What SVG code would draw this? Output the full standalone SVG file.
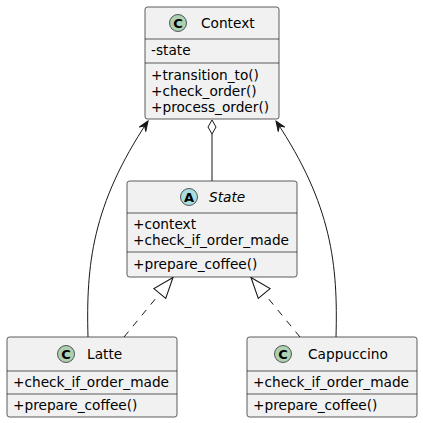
<svg xmlns="http://www.w3.org/2000/svg" width="423" height="423" viewBox="0 0 423 423">
<style>
.box{fill:#F1F1F1;stroke:#181818;stroke-width:0.7}
.sep{stroke:#181818;stroke-width:0.7}
text{font-family:"DejaVu Sans","Liberation Sans",sans-serif;font-size:13.7px;fill:#000}
.name{font-size:13.7px}
.ital{font-style:italic}
.glyph{font-weight:bold;font-size:13px;text-anchor:middle}
.circC{fill:#ADD1B2;stroke:#181818;stroke-width:0.7}
.circA{fill:#A9DCDF;stroke:#181818;stroke-width:0.7}
.edge{fill:none;stroke:#181818;stroke-width:1}
.dash{stroke-dasharray:7,7}
</style>
<defs>
<marker id="arrow" markerUnits="userSpaceOnUse" markerWidth="14" markerHeight="12" refX="0" refY="0" viewBox="-11 -6 12 12" orient="auto" overflow="visible">
<path d="M0,0 L-10,-4 L-6,0 L-10,4 Z" fill="#181818" stroke="#181818" stroke-width="1"/>
</marker>
<marker id="tri" markerUnits="userSpaceOnUse" markerWidth="24" markerHeight="18" refX="0" refY="0" viewBox="-21 -8 22 16" orient="auto" overflow="visible">
<path d="M0,0 L-19,-7 L-19,7 Z" fill="#FFFFFF" stroke="#181818" stroke-width="1"/>
</marker>
</defs>
<g id="connectors">
<path class="edge" d="M88,337 C86,265 92,205 148,121" marker-end="url(#arrow)"/>
<path class="edge" d="M336,337 C338,265 332,205 276,121" marker-end="url(#arrow)"/>
<path class="edge" d="M212,134 L212,181"/>
<path d="M212,120 L216,127 L212,134 L208,127 Z" fill="#FFFFFF" stroke="#181818" stroke-width="1"/>
<path class="edge dash" d="M124,337 L173,277.5" marker-end="url(#tri)"/>
<path class="edge dash" d="M300,337 L251,277.5" marker-end="url(#tri)"/>
</g>
<g id="Context">
<rect class="box" x="145" y="7" width="134" height="112" rx="2.5"/>
<line class="sep" x1="145" y1="39" x2="279" y2="39"/>
<line class="sep" x1="145" y1="63" x2="279" y2="63"/>
<circle class="circC" cx="178" cy="23" r="8.5"/>
<text class="glyph" x="178" y="27.6">C</text>
<text class="name" x="201" y="28">Context</text>
<text x="151" y="55">-state</text>
<text x="151" y="79.5">+transition_to()</text>
<text x="151" y="95.5">+check_order()</text>
<text x="151" y="111.5">+process_order()</text>
</g>
<g id="State">
<rect class="box" x="127" y="181" width="170" height="96" rx="2.5"/>
<line class="sep" x1="127" y1="213" x2="297" y2="213"/>
<line class="sep" x1="127" y1="252" x2="297" y2="252"/>
<circle class="circA" cx="189" cy="197" r="8.5"/>
<text class="glyph" x="189" y="201.6">A</text>
<text class="name ital" x="209" y="202">State</text>
<text x="133" y="229">+context</text>
<text x="133" y="245">+check_if_order_made</text>
<text x="133" y="268.5">+prepare_coffee()</text>
</g>
<g id="Latte">
<rect class="box" x="7" y="337" width="170" height="80" rx="2.5"/>
<line class="sep" x1="7" y1="371" x2="177" y2="371"/>
<line class="sep" x1="7" y1="394" x2="177" y2="394"/>
<circle class="circC" cx="66" cy="354" r="8.5"/>
<text class="glyph" x="66" y="358.6">C</text>
<text class="name" x="87" y="359">Latte</text>
<text x="13" y="386.5">+check_if_order_made</text>
<text x="13" y="410">+prepare_coffee()</text>
</g>
<g id="Cappuccino">
<rect class="box" x="247" y="337" width="170" height="80" rx="2.5"/>
<line class="sep" x1="247" y1="371" x2="417" y2="371"/>
<line class="sep" x1="247" y1="394" x2="417" y2="394"/>
<circle class="circC" cx="283" cy="354" r="8.5"/>
<text class="glyph" x="283" y="358.6">C</text>
<text class="name" x="308" y="359">Cappuccino</text>
<text x="253" y="386.5">+check_if_order_made</text>
<text x="253" y="410">+prepare_coffee()</text>
</g>
</svg>
